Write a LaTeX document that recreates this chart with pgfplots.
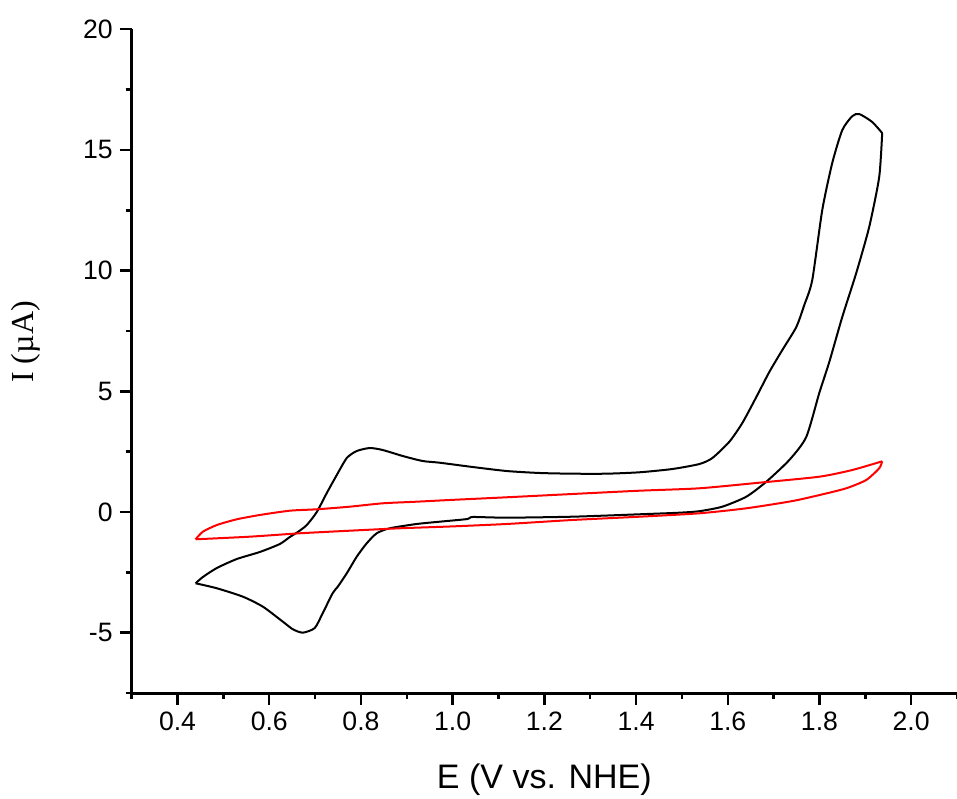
\documentclass[border=0pt]{standalone}
\usepackage{pgfplots}
\pgfplotsset{compat=1.18}
\usepackage{fontspec}
\setmainfont{Liberation Sans}
\newfontfamily\serif{Liberation Serif}

% black: sample CV, forward and reverse sweep
\pgfplotstableread{
x y
0.4394 -2.954
0.4553 -2.693
0.4858 -2.320
0.5294 -1.947
0.5795 -1.657
0.6231 -1.326
0.6449 -1.036
0.6623 -0.829
0.6819 -0.539
0.7037 0.000
0.7255 0.787
0.7473 1.533
0.7691 2.237
0.7908 2.527
0.8192 2.651
0.8475 2.568
0.8911 2.320
0.9346 2.113
0.9717 2.042
1.0436 1.864
1.1176 1.698
1.1895 1.616
1.2614 1.587
1.3355 1.587
1.4074 1.645
1.4793 1.781
1.5381 1.988
1.5665 2.237
1.6035 2.912
1.6318 3.687
1.6623 4.764
1.6906 5.800
1.7190 6.711
1.7495 7.664
1.7669 8.575
1.7843 9.611
1.8061 12.51
1.8279 14.46
1.8497 15.82
1.8715 16.40
1.8867 16.49
1.9150 16.16
1.9368 15.70
}\sampleF

\pgfplotstableread{
x y
1.9368 15.70
1.9303 13.88
1.9085 11.81
1.8802 9.90
1.8497 8.078
1.8214 6.214
1.7996 4.930
1.7712 3.107
1.7342 2.154
1.6841 1.255
1.6405 0.634
1.5882 0.220
1.5381 0.033
1.4946 -0.029
1.4074 -0.095
1.2614 -0.195
1.1176 -0.236
1.0436 -0.207
1.0327 -0.290
0.9717 -0.402
0.9216 -0.497
0.8627 -0.675
0.8344 -0.882
0.8126 -1.297
0.7908 -1.852
0.7691 -2.539
0.7495 -3.094
0.7386 -3.355
0.7168 -4.184
0.6993 -4.805
0.6732 -5.000
0.6514 -4.859
0.6296 -4.544
0.5861 -3.923
0.5425 -3.509
0.4858 -3.161
0.4394 -2.954
}\sampleR

% red: blank, upper and lower branch
\pgfplotstableread{
x y
0.4394 -1.131
0.4553 -0.816
0.4858 -0.539
0.5294 -0.302
0.5795 -0.124
0.6449 0.054
0.7037 0.112
0.7756 0.220
0.8475 0.360
0.9216 0.427
0.9935 0.497
1.1176 0.609
1.2614 0.746
1.4074 0.882
1.5381 0.982
1.6688 1.214
1.7996 1.462
1.8715 1.740
1.9368 2.100
}\blankU

\pgfplotstableread{
x y
1.9368 2.100
1.9303 1.810
1.9020 1.326
1.8584 0.982
1.7996 0.700
1.7400 0.450
1.6405 0.153
1.5381 -0.054
1.4074 -0.195
1.2614 -0.331
1.1176 -0.497
0.9935 -0.601
0.8845 -0.675
0.7756 -0.775
0.6667 -0.882
0.5577 -1.023
0.4394 -1.131
}\blankL

\begin{document}
\begin{tikzpicture}
\begin{axis}[
  scale only axis,
  width=412.65pt,
  height=331.85pt,
  xmin=0.3, xmax=2.1,
  ymin=-7.5, ymax=20,
  axis lines*=left,
  axis line style={line width=1.5pt},
  tick align=outside,
  major tick length=6pt,
  minor tick length=3pt,
  every tick/.style={black, line width=1.2pt},
  xtick={0.4,0.6,...,2.01},
  minor xtick={0.3,0.5,...,2.11},
  ytick={-5,0,...,20},
  minor ytick={-7.5,-2.5,...,17.5},
  x tick label style={/pgf/number format/.cd, fixed, fixed zerofill, precision=1},
  /pgf/number format/assume math mode=true,
  tick label style={font=\fontsize{13.3}{15}\selectfont},
  every axis x label/.style={at={(rel axis cs:0.5,0)}, yshift=-43.5pt, anchor=center},
  every axis y label/.style={at={(rel axis cs:0,0.529)}, xshift=-53pt, rotate=90, anchor=center},
  xlabel={\fontsize{17}{19}\selectfont E (V vs. NHE)},
  ylabel={\serif\fontsize{16}{18}\selectfont I (\textmu A)},
]
\coordinate (sw) at (rel axis cs:0,0);
\coordinate (ne) at (rel axis cs:1,1);
\addplot[black, line width=1pt, smooth, tension=0.4] table {\sampleF};
\addplot[black, line width=1pt, smooth, tension=0.4] table {\sampleR};
\addplot[red, line width=1pt, smooth, tension=0.4] table {\blankU};
\addplot[red, line width=1pt, smooth, tension=0.4] table {\blankL};
\end{axis}
\pgfresetboundingbox
\path ([xshift=-65.85pt,yshift=-52.5pt]sw) rectangle ([yshift=14.65pt]ne);
\end{tikzpicture}
\end{document}
